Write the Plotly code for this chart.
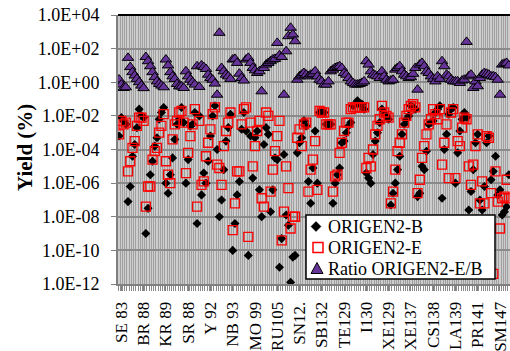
import plotly.graph_objects as go

# ---------------- data ----------------
# category axis: 176 nuclides, a label shown every 10th category
tick_labels = ["SE 83", "BR 88", "KR 89", "SR 88", "Y 92", "NB 93", "MO 99", "RU105", "SN12.",
               "SB132", "TE129", "I130", "XE129", "XE137", "CS138", "LA139", "PR141", "SM147"]
n_categories = 176
first_labelled = 1
label_step = 10

# yields, stored as log10 of the yield (%)
origen2_b_log10 = [
    -3.2, -2.1, -2.3, -2.5, -7.1, -6.2, -4.4, -3.7, -2.7, -1.6,
    -2.0, -2.1, -9.0, -7.5, -5.5, -4.7, -3.8, -3.3, -2.2, -1.8,
    -1.5, -6.0, -6.6, -5.5, -4.5, -3.4, -2.5, -2.2, -1.5, -2.4,
    -6.0, -4.6, -2.6, -2.5, -1.8, -8.4, -2.0, -6.7, -5.4, -6.0,
    -4.7, -3.2, -2.0, -1.4, -4.0, -8.0, -7.0, -5.2, -3.5, -2.7,
    -1.9, -10.0, -8.4, -6.7, -5.9, -2.8, -1.8, -2.9, -10.3, -3.2,
    -5.7, -3.3, -2.9, -6.4, -8.0, -3.7, -2.7, -3.1, -7.7, -6.4,
    -4.5, -4.6, -11.0, -9.3, -4.3, -7.9, -8.5, -11.9, -10.4, -10.3,
    -4.2, -3.6, -3.3, -2.3, -2.6, -5.9, -7.2, -5.1, -2.9, -6.0,
    -1.8, -1.8, -1.8, -2.5, -2.5, -2.5, -7.2, -6.0, -5.5, -5.1,
    -3.6, -3.5, -3.0, -2.6, -2.4, -1.4, -1.3, -1.1, -1.3, -1.3,
    -1.6, -5.4, -5.7, -6.0, -4.3, -3.5, -3.0, -2.4, -1.6, -1.9,
    -2.0, -2.2, -7.3, -6.6, -6.0, -5.2, -4.4, -3.1, -2.5, -2.2,
    -2.0, -1.4, -1.5, -1.6, -6.8, -6.6, -5.0, -5.2, -4.1, -2.5,
    -2.4, -2.3, -1.8, -1.6, -1.4, -6.9, -4.0, -3.1, -1.9, -1.6,
    -1.5, -6.0, -4.2, -2.9, -2.2, -1.8, -2.1, -7.6, -6.5, -5.2,
    -3.6, -3.1, -7.0, -7.6, -6.2, -3.6, -3.2, -5.8, -5.3, -4.4,
    -6.7, -6.4, -7.9, -7.7, -7.4, -5.5,
]
origen2_e_log10 = [
    -3.1, -2.3, -2.5, -2.4, -5.3, -4.7, -3.9, -3.5, -2.6, -2.1,
    -2.1, -2.3, -7.4, -6.2, -6.2, -4.6, -4.1, -3.9, -3.0, -2.6,
    -1.9, -4.7, -5.5, -6.0, -3.4, -2.5, -2.3, -1.8, -1.7, -2.4,
    -5.4, -4.2, -3.2, -2.5, -1.6, -7.4, -2.3, -6.1, -5.9, -4.4,
    -3.6, -2.8, -1.9, -1.5, -4.9, -5.1, -6.1, -3.8, -2.9, -2.4,
    -1.8, -8.8, -7.2, -5.3, -5.3, -2.5, -1.6, -1.5, -9.2, -2.4,
    -5.0, -3.8, -2.9, -2.3, -6.9, -7.4, -1.8, -2.0, -6.5, -5.2,
    -4.1, -3.2, -2.3, -9.4, -7.7, -5.0, -6.3, -8.7, -8.0, -8.0,
    -3.3, -2.8, -3.8, -2.5, -2.4, -6.5, -5.2, -4.6, -3.5, -6.4,
    -1.7, -1.8, -1.8, -2.5, -2.5, -2.5, -6.5, -5.6, -5.5, -4.2,
    -3.6, -2.9, -2.4, -2.4, -1.6, -1.5, -1.5, -1.5, -1.5, -1.5,
    -1.5, -5.1, -4.5, -5.0, -4.0, -3.1, -2.6, -2.2, -1.4, -1.8,
    -2.0, -2.1, -7.2, -6.5, -5.2, -4.1, -3.6, -3.1, -2.4, -2.0,
    -1.6, -1.4, -1.3, -1.5, -6.6, -5.8, -4.5, -3.8, -3.1, -2.5,
    -2.2, -1.6, -1.9, -2.2, -1.6, -4.9, -3.6, -2.5, -5.7, -1.8,
    -1.6, -5.7, -3.5, -3.8, -2.7, -2.1, -2.2, -5.0, -6.1, -4.9,
    -3.8, -3.1, -7.2, -5.9, -7.2, -3.2, -3.3, -6.6, -11.4, -5.3,
    -7.1, -8.7, -6.9, -6.8, -5.8, -6.9,
]
ratio_e_b_log10 = [
    0.16, -0.14, -0.34, -0.3, 1.45, 0.9, 0.6, 0.4, 0.2, 0.0,
    -0.2, -0.35, 1.5, 1.25, 0.95, 0.6, 0.3, 0.05, -0.1, -0.2,
    -0.3, 1.35, 1.0, 0.6, 0.35, 0.2, -0.1, -0.25, -0.25, -0.34,
    0.65, 0.35, 0.15, 0.0, -0.14, 0.95, -0.28, 1.0, 0.9, 0.79,
    0.45, 0.25, 0.15, -0.08, -0.74, 2.94, 0.85, 0.65, 0.45, 0.35,
    0.2, 1.35, 1.39, 1.15, 0.51, 0.25, 0.1, 1.35, 1.45, 1.15,
    0.85, 0.71, 0.55, 0.65, -0.54, 0.85, 1.05, 1.15, 1.25, 1.35,
    1.39, 2.34, 1.6, 1.5, -0.74, 1.84, 2.74, 3.24, 2.84, 2.44,
    0.15, 0.35, 0.45, 0.55, 0.45, 0.35, 0.45, 0.5, 0.65, 0.35,
    0.15, 0.05, -0.14, -0.14, 0.05, 0.65, 0.75, 0.85, 0.9, 0.95,
    0.85, 0.55, 0.45, 0.25, 0.05, -0.05, -0.14, -0.14, -0.1, -0.04,
    0.05, 1.25, 1.05, 0.65, 0.45, 0.4, 0.35, 0.25, 0.65, 0.35,
    0.15, 0.05, 0.1, 0.15, 0.75, 0.85, 0.95, 0.65, 0.45, 0.35,
    0.25, 0.3, 0.5, 0.85, -0.44, 1.05, 1.15, 0.95, 0.65, 0.55,
    0.35, 0.2, 0.05, 0.35, 0.2, 1.25, 0.95, 0.45, 0.35, 0.15,
    0.05, 0.05, 0.05, -0.04, 0.1, 0.15, 2.4, 0.35, 0.45, -0.34,
    0.05, -0.24, 0.25, 0.45, 0.55, 0.5, 0.45, 0.35, 0.35, 0.3,
    0.15, -0.74, 1.05, 1.1, 1.15, 1.0,
]
y_tick_exponents = [4, 2, 0, -2, -4, -6, -8, -10, -12]

# ---------------- figure ----------------
FONT = "'Liberation Serif', 'Times New Roman', Times, serif"
W, H = 510, 351
ML, MR, MT, MB = 118, 0, 15, 67
PW, PH = W - ML - MR, H - MT - MB

x = list(range(n_categories))
b_vals = [10 ** v for v in origen2_b_log10]
e_vals = [10 ** v for v in origen2_e_log10]
r_vals = [10 ** v for v in ratio_e_b_log10]

purple = "#663399"

fig = go.Figure()
fig.add_trace(go.Scatter(x=x, y=b_vals, mode="markers", name="ORIGEN2-B",
                         marker=dict(symbol="diamond", size=7, color="black")))
fig.add_trace(go.Scatter(x=x, y=e_vals, mode="markers", name="ORIGEN2-E",
                         marker=dict(symbol="square-open", size=9, color="#ff0000",
                                     line=dict(width=1.3, color="#ff0000"))))
fig.add_trace(go.Scatter(x=x, y=r_vals, mode="markers", name="Ratio ORIGEN2-E/B",
                         marker=dict(symbol="triangle-up", size=10, color=purple,
                                     line=dict(width=1, color="black"))))

tickvals_x = [first_labelled + label_step * k for k in range(len(tick_labels))]

fig.update_layout(
    width=W, height=H,
    margin=dict(l=ML, r=MR, t=MT, b=MB),
    paper_bgcolor="white",
    plot_bgcolor="#cdcdcd",
    showlegend=False,
    font=dict(family=FONT, color="black"),
    xaxis=dict(
        range=[-0.5, n_categories - 0.5],
        tickmode="array", tickvals=tickvals_x, ticktext=tick_labels,
        tickangle=-90, tickfont=dict(family=FONT, size=17, color="black"),
        ticks="outside", ticklen=5, tickcolor="#808080", tickwidth=1,
        showgrid=False, zeroline=False,
        showline=True, linecolor="#808080", linewidth=2,
        ticklabelstandoff=4,
        minor=dict(tickmode="linear", tick0=0.5, dtick=1, ticks="outside", ticklen=5,
                   tickcolor="#8a8a8a", tickwidth=1,
                   showgrid=True, gridcolor="#a0a0a0", gridwidth=1),
    ),
    yaxis=dict(
        type="log", range=[-12, 4],
        tickmode="array",
        tickvals=[10.0 ** e for e in y_tick_exponents],
        ticktext=[f"1.0E{'+' if e >= 0 else '-'}{abs(e):02d}" for e in y_tick_exponents],
        tickfont=dict(family=FONT, size=18, color="black"),
        ticks="outside", ticklen=5, tickcolor="#808080", tickwidth=1,
        showgrid=True, gridcolor="#8a8a8a", gridwidth=2,
        zeroline=False, showline=True, linecolor="#808080", linewidth=2,
        ticklabelstandoff=8,
    ),
)

# top border of plot area
shapes = [dict(type="line", xref="paper", yref="paper", x0=0, x1=1, y0=1, y1=1,
               line=dict(color="black", width=2), layer="above")]

# custom legend box (pixel -> paper helpers)
def px(xp):
    return (xp - ML) / PW

def py(yp):
    return (H - MB - yp) / PH

shapes.append(dict(type="rect", xref="paper", yref="paper",
                   x0=px(306), x1=px(495), y0=py(279), y1=py(215),
                   fillcolor="white", line=dict(color="black", width=1.5), layer="above"))
# legend keys
cx, cy = 316, 226.5
shapes.append(dict(type="path", xref="paper", yref="paper", layer="above",
                   path=f"M {px(cx)},{py(cy-5)} L {px(cx+5)},{py(cy)} L {px(cx)},{py(cy+5)} L {px(cx-5)},{py(cy)} Z",
                   fillcolor="black", line=dict(color="black", width=0.5)))
cx, cy = 318, 247.5
shapes.append(dict(type="rect", xref="paper", yref="paper", layer="above",
                   x0=px(cx-5), x1=px(cx+5), y0=py(cy+5), y1=py(cy-5),
                   fillcolor="white", line=dict(color="#ff0000", width=1.5)))
cx, cy = 317, 268.5
shapes.append(dict(type="path", xref="paper", yref="paper", layer="above",
                   path=f"M {px(cx-6)},{py(cy+5)} L {px(cx+6)},{py(cy+5)} L {px(cx)},{py(cy-6)} Z",
                   fillcolor=purple, line=dict(color="black", width=1)))

annotations = []
for name, yc in [("ORIGEN2-B", 226.5), ("ORIGEN2-E", 247.5), ("Ratio ORIGEN2-E/B", 268.5)]:
    annotations.append(dict(text=name, xref="paper", yref="paper", x=px(326), y=py(yc),
                            xanchor="left", yanchor="middle", showarrow=False,
                            font=dict(family=FONT, size=18, color="black")))

annotations.append(dict(text="<b>Yield (%)</b>", xref="paper", yref="paper",
                        x=px(25), y=py(148), xanchor="center", yanchor="middle",
                        textangle=-90, showarrow=False,
                        font=dict(family=FONT, size=21, color="black")))

fig.update_layout(shapes=shapes, annotations=annotations)
fig.write_html("out.html")
